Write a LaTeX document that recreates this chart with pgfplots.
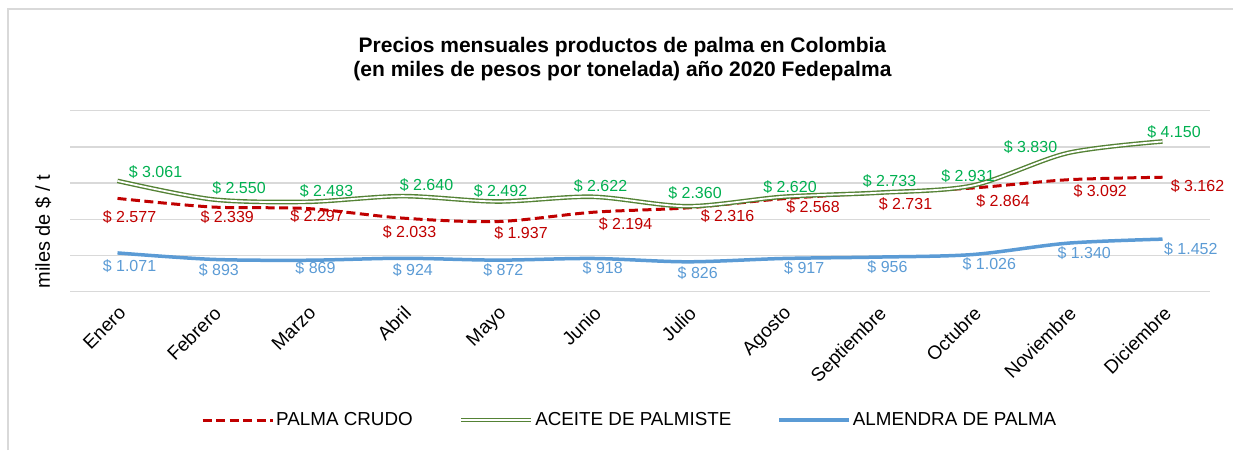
\documentclass[border=0pt]{standalone}
\usepackage{pgfplots}
\pgfplotsset{compat=1.18}
\usepackage{pgfplotstable}
\usepackage{fontspec}
\setmainfont{Liberation Sans}
\definecolor{rojo}{HTML}{C00000}
\definecolor{verde}{HTML}{548235}
\definecolor{verdetxt}{HTML}{00B050}
\definecolor{azul}{HTML}{5B9BD5}
\definecolor{gridgray}{HTML}{D9D9D9}

\pgfplotsset{longlegend/.style={legend image code/.code={\draw[##1] (0pt,0pt) -- (70pt,0pt);}}}

% x, value, label x-offset, label y-offset (downwards)
\pgfplotstableread{
x y lx ly
0 2577 12 18.3
1 2339 14.7 10.3
2 2297 9.5 7.5
3 2033 7 13.6
4 1937 23.5 11.7
5 2194 33 11.7
6 2316 40 8.1
7 2568 30.5 8.6
8 2731 28 11.5
9 2864 30.5 13
10 3092 32.7 10.9
11 3162 35 8.8
}\palma

\pgfplotstableread{
x y lx ly
0 3061 38 -9.2
1 2550 26.5 -11.1
2 2483 19 -11.1
3 2640 24 -11.1
4 2492 3 -10.8
5 2622 8 -10.8
6 2360 7.5 -13.6
7 2620 7.5 -9.6
8 2733 12 -12.1
9 2931 -4.5 -9.6
10 3830 -37 -6.4
11 4150 11.5 -9.8
}\aceite

\pgfplotstableread{
x y lx ly
0 1071 12 13.1
1 893 6.3 10.6
2 869 8 8.1
3 924 10.3 11.7
4 872 5.8 9.9
5 918 10.2 9.8
6 826 10.2 11.5
7 917 21.7 9.8
8 956 10 9.6
9 1026 16.8 9.4
10 1340 16.7 9.5
11 1452 28.3 10.2
}\almendra

\begin{document}
\begin{tikzpicture}
\path[use as bounding box] (0,0) rectangle (1233pt,450pt);
\draw[gridgray, line width=1.5pt] (8pt,0pt) -- (8pt,441pt) -- (1233pt,441pt);
\begin{axis}[
  at={(70pt,158.3pt)}, anchor=south west,
  width=1140pt, height=181pt, scale only axis,
  xmin=-0.5, xmax=11.5, ymin=0, ymax=5000,
  xtick={0,...,11},
  xticklabels={Enero,Febrero,Marzo,Abril,Mayo,Junio,Julio,Agosto,Septiembre,Octubre,Noviembre,Diciembre},
  ytick={0,1000,...,5000}, yticklabels={},
  ymajorgrids, grid style={draw=gridgray, line width=1.5pt},
  axis line style={draw=none}, major tick length=0pt,
  xticklabel style={font=\fontsize{19}{22}\selectfont, rotate=45, anchor=north east, inner sep=0pt},
  xticklabel shift=13pt,
  ylabel={miles de \$ / t},
  ylabel style={at={(axis description cs:-0.01754,0.331)}, anchor=base, font=\fontsize{20}{24}\selectfont},
  title={Precios mensuales productos de palma en Colombia\\(en miles de pesos por tonelada) año 2020 Fedepalma},
  title style={at={(axis description cs:0.4846,1.2525)}, anchor=center, align=center, font=\bfseries\fontsize{21}{24}\selectfont},
  legend columns=3,
  legend style={at={(axis description cs:0.491,-0.709)}, anchor=center, draw=none, fill=none, text=black,
    font=\fontsize{18.8}{22}\selectfont, /tikz/every even column/.append style={column sep=44pt}},
  longlegend,
  clip=false,
  /pgf/number format/1000 sep={.},
  /pgf/number format/assume math mode=true,
  nodes near coords={\$ \pgfmathprintnumber{\pgfplotspointmeta}},
  visualization depends on={\thisrow{lx} \as \labx},
  visualization depends on={-\thisrow{ly} \as \laby},
  every node near coord/.append style={anchor=center, xshift=\labx pt, yshift=\laby pt, font=\fontsize{16}{19}\selectfont},
]
\addplot[rojo, line width=3pt, dash pattern=on 9pt off 4.5pt, smooth, tension=0.5,
  every node near coord/.append style={text=rojo}]
  table[x=x,y=y] {\palma};
\addlegendentry{PALMA CRUDO}
\addplot[verde, line width=1.4pt, double=white, double distance=1.8pt, smooth, tension=0.5,
  every node near coord/.append style={text=verdetxt}]
  table[x=x,y=y] {\aceite};
\addlegendentry{ACEITE DE PALMISTE}
\addplot[azul, line width=3.5pt, smooth, tension=0.5,
  every node near coord/.append style={text=azul}]
  table[x=x,y=y] {\almendra};
\addlegendentry{ALMENDRA DE PALMA}
\end{axis}
\end{tikzpicture}
\end{document}
